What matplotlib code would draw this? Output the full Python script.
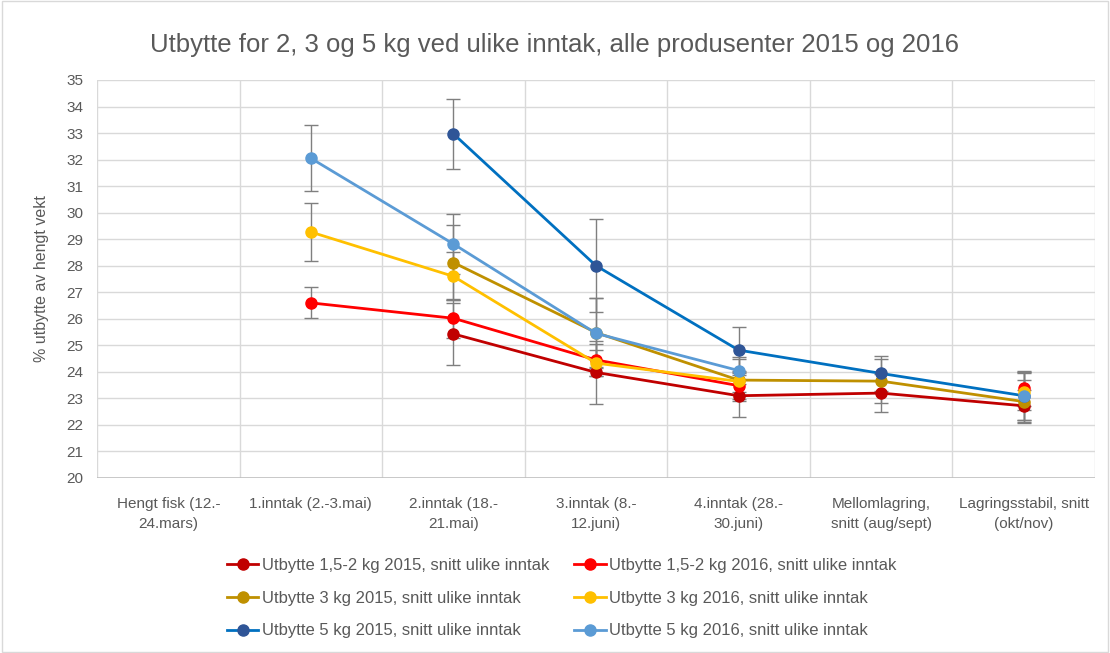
import matplotlib
matplotlib.use('Agg')
import matplotlib.pyplot as plt
import numpy as np

plt.rcParams['font.family'] = ['Liberation Sans', 'DejaVu Sans']

categories = ['Hengt fisk (12.-\n24.mars)', '1.inntak (2.-3.mai)', '2.inntak (18.-\n21.mai)',
              '3.inntak (8.-\n12.juni)', '4.inntak (28.-\n30.juni)', 'Mellomlagring,\nsnitt (aug/sept)',
              'Lagringsstabil, snitt\n(okt/nov)']

nan = np.nan
# 2015 series (no data for first two categories)
kg2_2015 = [nan, nan, 25.43, 23.98, 23.10, 23.20, 22.72]
kg3_2015 = [nan, nan, 28.12, 25.48, 23.69, 23.65, 22.88]
kg5_2015 = [nan, nan, 32.97, 28.00, 24.82, 23.94, 23.10]
# 2016 series (no data for hengt fisk and mellomlagring)
kg2_2016 = [nan, 26.60, 26.02, 24.45, 23.48, nan, 23.38]
kg3_2016 = [nan, 29.27, 27.60, 24.33, 23.64, nan, 23.25]
kg5_2016 = [nan, 32.05, 28.82, 25.45, 24.05, nan, 23.09]

err_kg2_2015 = [0, 0, 1.18, 1.18, 0.80, 0.73, 0.60]
err_kg3_2015 = [0, 0, 1.43, 1.30, 0.80, 0.83, 0.80]
err_kg5_2015 = [0, 0, 1.32, 1.75, 0.88, 0.66, 0.90]
err_kg2_2016 = [0, 0.58, 0.73, 0.60, 0.50, 0, 0.65]
err_kg3_2016 = [0, 1.08, 0.90, 0.50, 0.40, 0, 0.70]
err_kg5_2016 = [0, 1.25, 1.13, 1.32, 0.50, 0, 0.90]

labels = ['Utbytte 1,5-2 kg 2015, snitt ulike inntak', 'Utbytte 3 kg 2015, snitt ulike inntak',
          'Utbytte 5 kg 2015, snitt ulike inntak', 'Utbytte 1,5-2 kg 2016, snitt ulike inntak',
          'Utbytte 3 kg 2016, snitt ulike inntak', 'Utbytte 5 kg 2016, snitt ulike inntak']
series = [kg2_2015, kg3_2015, kg5_2015, kg2_2016, kg3_2016, kg5_2016]
errors = [err_kg2_2015, err_kg3_2015, err_kg5_2015, err_kg2_2016, err_kg3_2016, err_kg5_2016]
colors = ['#C00000', '#BF9000', '#0070C0', '#FF0000', '#FFC000', '#5B9BD5']
marker_colors = ['#C00000', '#BF9000', '#2F5597', '#FF0000', '#FFC000', '#5B9BD5']

text_col = '#595959'
grid_col = '#D9D9D9'

fig = plt.figure(figsize=(11.1, 6.53), dpi=100)
ax = fig.add_axes([0.0874, 0.268, 0.8991, 0.6095])

x = np.arange(len(categories))
handles = []
for vals, err, c, mc, lab in zip(series, errors, colors, marker_colors, labels):
    vals = np.array(vals, dtype=float)
    err = np.array(err, dtype=float)
    ok = ~np.isnan(vals)
    ax.errorbar(x[ok], vals[ok], yerr=err[ok], fmt='none', ecolor='#7F7F7F',
                elinewidth=1.0, capsize=5, capthick=1.0, zorder=2)
    h, = ax.plot(x, vals, '-o', color=c, lw=2.0, markersize=8,
                 markerfacecolor=mc, markeredgecolor=mc, label=lab, zorder=3)
    handles.append(h)

ax.set_xlim(-0.5, 6.5)
ax.set_ylim(20, 35)
ax.set_yticks(np.arange(20, 36, 1))
ax.set_xticks(x)
ax.set_xticklabels(categories, fontsize=11, color=text_col, linespacing=1.5)
ax.tick_params(axis='both', length=0, colors=text_col, labelsize=11)
ax.tick_params(axis='x', pad=14)
ax.tick_params(axis='y', pad=10)

for yv in np.arange(21, 36, 1):
    ax.axhline(yv, color=grid_col, lw=1.0, zorder=0)
for xv in np.arange(-0.5, 7.0, 1.0):
    ax.axvline(xv, color=grid_col, lw=1.0, zorder=0)
for s in ax.spines.values():
    s.set_visible(False)
ax.axhline(20, color='#BFBFBF', lw=1.2, zorder=1)

ax.set_ylabel('% utbytte av hengt vekt', fontsize=11.5, color=text_col, labelpad=12)
fig.suptitle('Utbytte for 2, 3 og 5 kg ved ulike inntak, alle produsenter 2015 og 2016',
             fontsize=18.5, color=text_col, y=0.950)

fig.legend(handles=handles, loc='center', bbox_to_anchor=(0.506, 0.0842), ncol=2,
           frameon=False, fontsize=12, labelcolor=text_col, handlelength=1.9,
           handletextpad=0.2, columnspacing=1.5, labelspacing=1.07)

fig.patches.append(plt.Rectangle((0.002, 0.002), 0.996, 0.996, transform=fig.transFigure,
                                 fill=False, edgecolor='#D9D9D9', lw=1.0))

fig.savefig('out.png', dpi=100)
